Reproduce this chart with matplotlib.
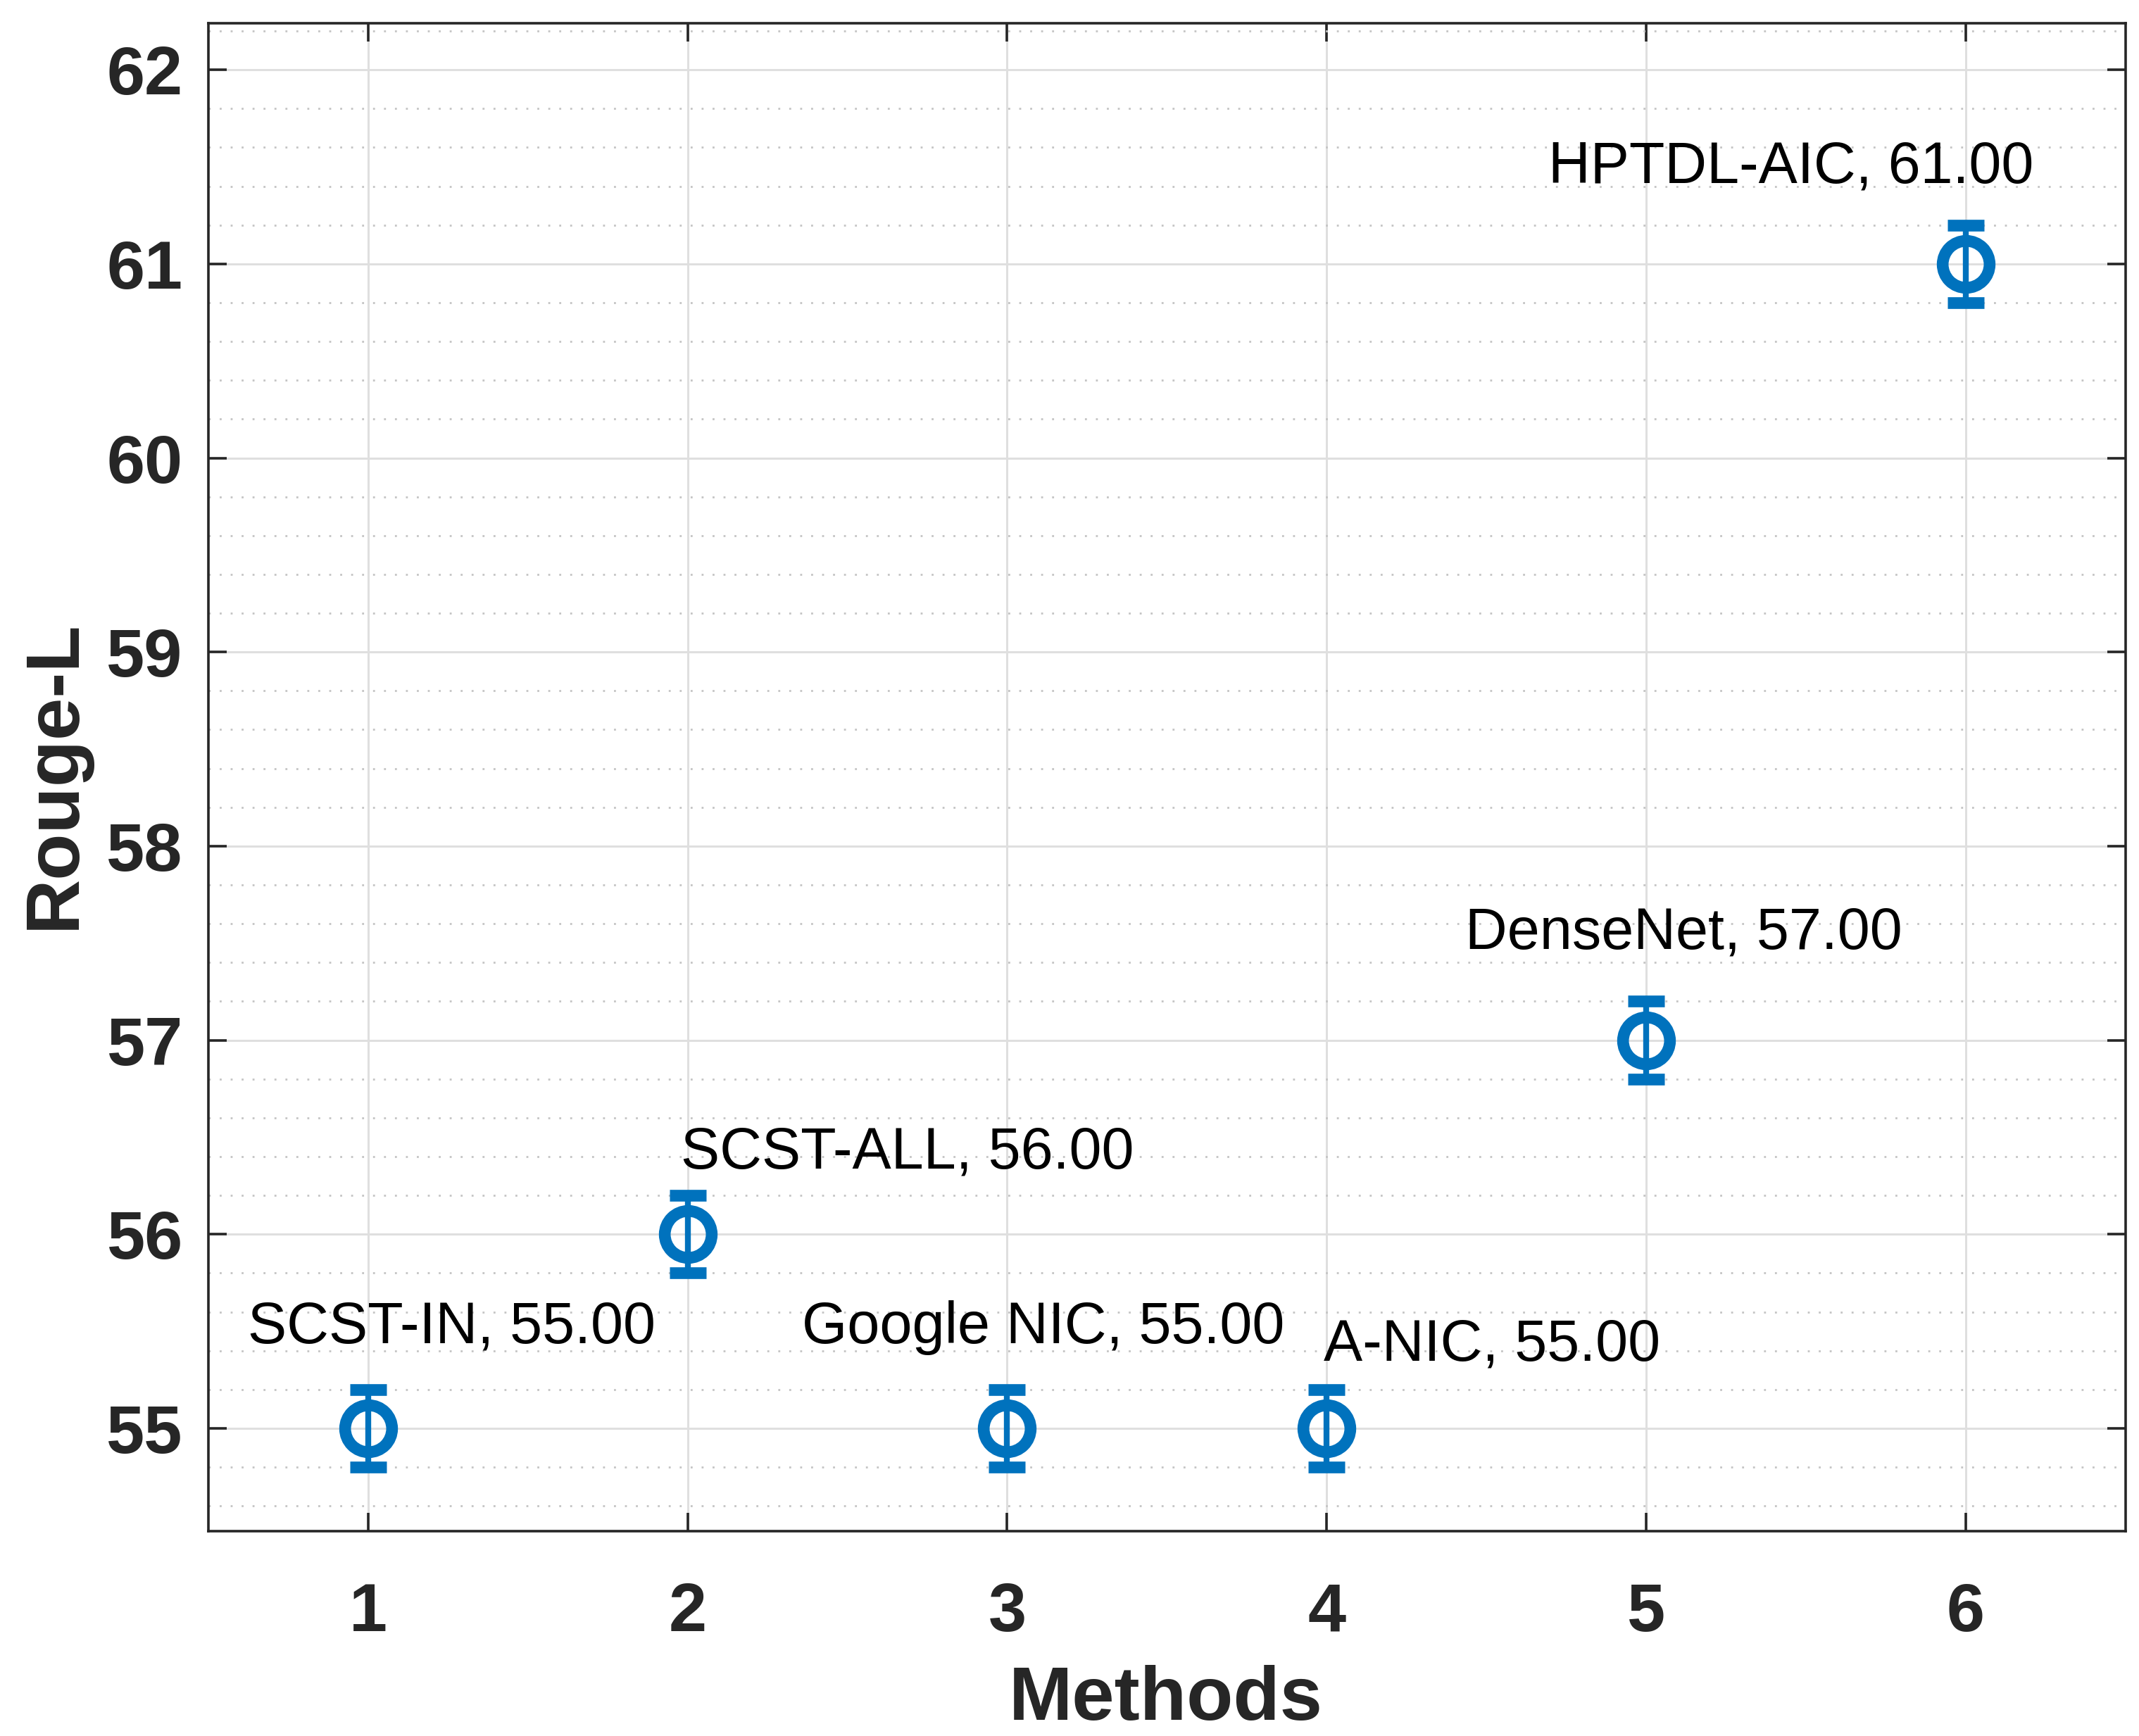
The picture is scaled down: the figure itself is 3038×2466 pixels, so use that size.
import matplotlib
matplotlib.use("Agg")
import matplotlib.pyplot as plt
import numpy as np
from matplotlib.ticker import MultipleLocator

methods = ["SCST-IN", "SCST-ALL", "Google NIC", "A-NIC", "DenseNet", "HPTDL-AIC"]
x_pos = [1, 2, 3, 4, 5, 6]
rouge_l = [55.00, 56.00, 55.00, 55.00, 57.00, 61.00]
err = [0.2, 0.2, 0.2, 0.2, 0.2, 0.2]
# label anchor offsets (x shift, y shift) in data units
label_dx = [-0.377, -0.02, -0.643, -0.01, -0.566, -1.307]
label_dy = [0.44, 0.34, 0.44, 0.35, 0.47, 0.42]

dark = "#262626"
blue = "#0072BD"

fig = plt.figure(figsize=(15.19, 12.33), dpi=200)
ax = fig.add_axes([0.0974, 0.118, 0.8962, 0.8686])

ax.errorbar(x_pos, rouge_l, yerr=err, fmt="o", color=blue, ecolor=blue,
            markersize=24, markerfacecolor="none", markeredgewidth=6,
            elinewidth=3, capsize=9.5, capthick=5.5, zorder=5)

for xi, yi, m, dx, dy in zip(x_pos, rouge_l, methods, label_dx, label_dy):
    ax.text(xi + dx, yi + dy, f"{m}, {yi:.2f}", fontsize=29.8,
            family="Liberation Sans", color="black", ha="left", va="baseline", zorder=6)

ax.set_xlim(0.5, 6.5)
ax.set_ylim(54.47, 62.24)
ax.set_xticks(x_pos)
ax.set_yticks(np.arange(55, 63, 1))
ax.yaxis.set_minor_locator(MultipleLocator(0.2))

ax.grid(which="major", color="#dfdfdf", linewidth=1.1, linestyle="-", zorder=0)
ax.grid(which="minor", axis="y", color="#c4c4c4", linewidth=1.0,
        linestyle=(0, (1, 4.6)), zorder=0)
ax.set_axisbelow(True)

for s in ax.spines.values():
    s.set_color(dark)
    s.set_linewidth(1.3)

ax.tick_params(which="major", direction="in", length=9.5, width=1.3, color=dark,
               top=True, right=True, labelsize=35, labelcolor=dark)
ax.tick_params(axis="x", pad=26)
ax.tick_params(axis="y", pad=13)
ax.tick_params(which="minor", length=0)
for lab in ax.get_xticklabels() + ax.get_yticklabels():
    lab.set_fontweight("bold")
    lab.set_family("Liberation Sans")

fig.text(0.545, 0.0205, "Methods", fontsize=39, fontweight="bold",
         family="Liberation Sans", color=dark, ha="center", va="center")
fig.text(0.0256, 0.554, "Rouge-L", fontsize=39, fontweight="bold", rotation=90,
         family="Liberation Sans", color=dark, ha="center", va="center")

fig.savefig("out.png", dpi=200, facecolor="white")
